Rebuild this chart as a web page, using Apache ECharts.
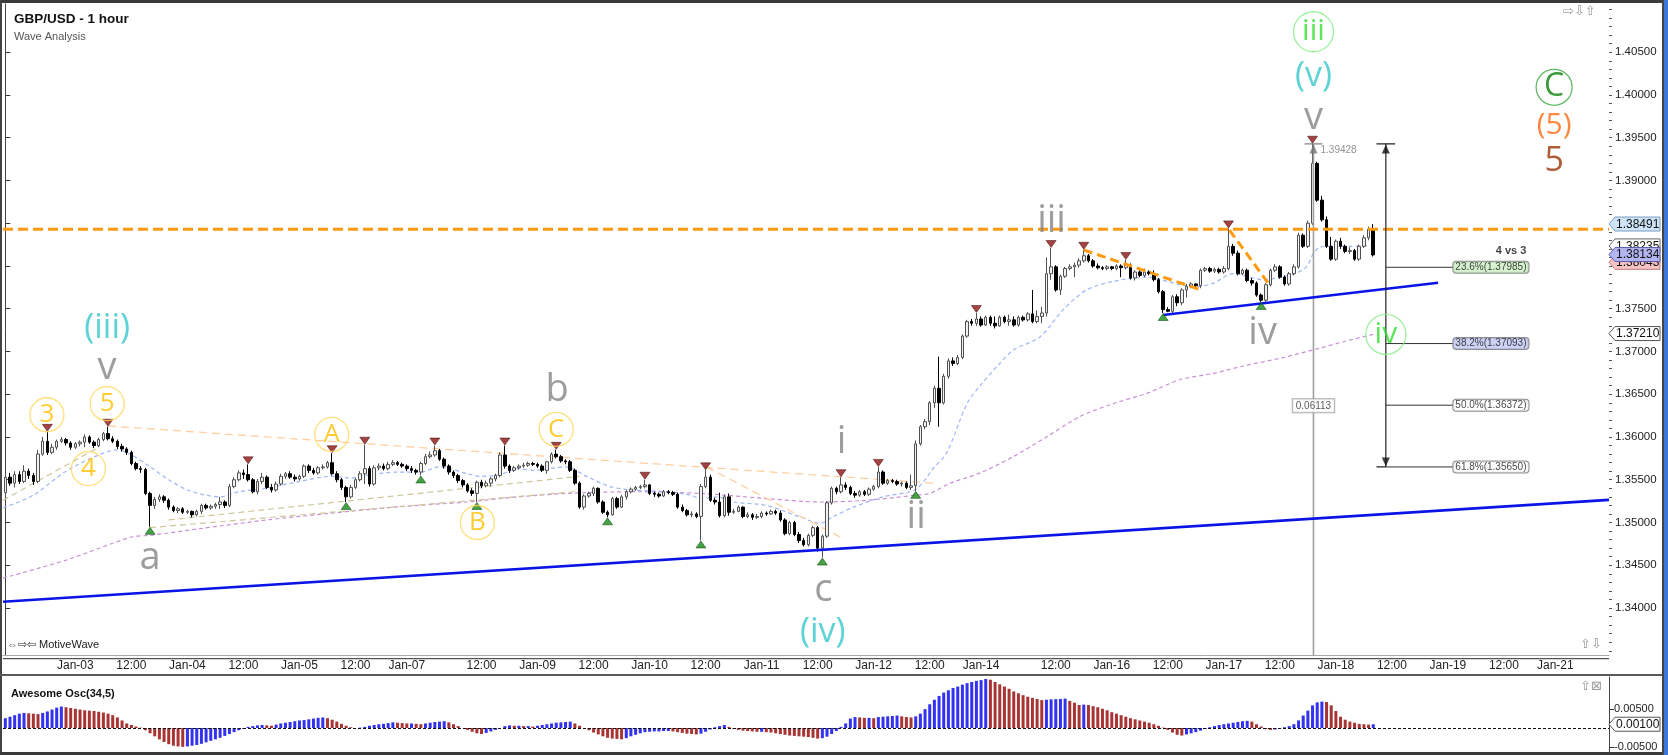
<!DOCTYPE html>
<html><head><meta charset="utf-8">
<script src="https://cdn.jsdelivr.net/npm/echarts@6/dist/echarts.min.js"></script>
<style>html,body{margin:0;padding:0;background:#fff}#c{width:1668px;height:755px}</style>
</head><body><div id="c"></div>
<script>
// ---------- DATA (prices in pips above BASE) ----------
const BASE = 1.3, PIP = 0.0001;
const sessions = [['Jan-02',9,23],['Jan-03',0,23],['Jan-04',0,23],['Jan-05',0,22],['Jan-07',20,23],['Jan-08',0,23],['Jan-09',0,23],['Jan-10',0,23],['Jan-11',0,23],['Jan-12',0,22],['Jan-14',20,23],['Jan-15',0,23],['Jan-16',0,23],['Jan-17',0,23],['Jan-18',0,23],['Jan-19',0,22],['Jan-21',20,23],['Jan-22',0,7]];
const labelTickIdx = [15,27,39,51,63,75,86,102,114,126,138,150,162,174,186,198,209,225,237,249,261,273,285,297,309,321,332];
const priceTicks = [1.340,1.345,1.350,1.355,1.360,1.365,1.370,1.375,1.380,1.385,1.390,1.395,1.400,1.405];
const priceLabels = [1.340,1.345,1.350,1.355,1.360,1.365,1.370,1.375,1.390,1.395,1.400,1.405];
const aoTicks = [-0.005,0.005];

// [open, close, low, high]
const ohlcA = [
[535,553,530,556],[553,546,543,558],[546,556,541,560],[556,548,545,560],[548,560,546,567],[560,555,551,563],[555,548,544,558],[548,580,546,585],[580,595,578,600],[595,582,579,606],
[582,588,580,592],[588,595,585,597],[595,597,593,600],[597,593,590,599],[593,588,585,595],[588,592,586,594],[592,594,589,596],[594,600,588,603],[600,594,592,602],[594,590,587,596],
[590,597,588,599],[597,604,595,606],[604,598,596,612],[598,595,593,601],[595,589,586,597],[589,586,583,592],[586,582,579,588],[582,569,567,584],[569,563,561,571],[563,562,558,566],
[562,534,532,564],[534,520,495,536],[520,527,516,530],[527,530,524,533],[530,526,523,532],[526,518,515,528],[518,514,512,520],[514,516,511,518],[516,512,510,518],[512,513,510,515],
[513,509,506,514],[509,513,507,515],[513,520,510,522],[520,517,515,522],[517,519,515,521],[519,521,516,523],[521,524,516,530],[524,520,517,526],[520,542,518,545],[542,550,540,553],
[550,558,548,561],[558,556,551,562],[556,550,548,568],[550,536,534,552],[536,548,533,551],[548,553,545,558],[553,541,539,555],[541,538,535,545],[538,545,536,548],[545,554,543,557],
[554,557,551,559],[557,553,551,560],[553,551,548,556],[551,554,549,556],[554,566,552,568],[566,561,558,568],[561,558,556,564],[558,564,556,566],[564,565,562,568],[565,570,563,572],
[570,557,555,581],[557,550,547,560],[550,541,538,552],[541,530,524,543],[530,541,528,544],[541,550,539,552],[550,557,548,560],[557,563,545,591],[563,545,542,566],[545,564,543,567],
[564,566,561,569],[566,563,561,569],[563,568,561,571],[568,570,566,573],[570,568,566,572],[568,566,564,570],[566,563,560,568],[563,561,558,566],[561,559,556,563],[559,569,555,571],
[569,577,567,580],[577,579,575,583],[579,584,577,590],[584,574,572,586],[574,566,563,576],[566,559,556,568],[559,555,552,561],[555,549,546,557],[549,544,541,551],[544,537,535,546],
[537,534,531,540],[534,547,524,549],[547,543,540,550],[543,546,541,549],[546,551,542,553],[551,555,548,557],[555,579,553,582],[579,566,563,590],[566,561,558,568],[561,564,559,566]
];
const ohlcB = [
[564,566,562,568],[566,567,564,570],[567,569,565,571],[569,568,566,571],[568,566,564,570],[566,561,559,568],[561,571,557,572],[571,580,569,582],[580,577,575,585],[577,572,570,579],
[572,571,568,574],[571,561,559,573],[561,546,544,563],[546,518,516,548],[518,531,515,533],[531,534,529,536],[534,540,531,542],[540,524,522,541],[524,512,510,526],[512,509,506,514],
[509,528,508,530],[528,518,516,530],[518,530,517,532],[530,536,527,538],[536,539,534,541],[539,541,537,543],[541,542,539,544],[542,544,540,550],[544,534,532,545],[534,533,530,536],
[533,531,529,535],[531,536,530,538],[536,535,533,538],[535,533,531,537],[533,518,516,535],[518,514,512,521],[514,509,507,516],[509,510,506,513],[510,507,505,512],[507,542,479,545],
[542,553,540,561],[553,526,524,556],[526,524,521,529],[524,508,506,535],[508,530,506,532],[530,512,508,534],[512,513,510,516],[513,518,512,520],[518,507,505,519],[507,509,505,512],
[509,506,503,511],[506,507,504,510],[507,511,505,513],[511,510,508,513],[510,513,509,515],[513,511,509,515],[511,503,501,514],[503,487,485,505],[487,500,485,502],[500,486,484,502],
[486,479,476,489],[479,474,472,482],[474,485,472,487],[485,494,483,496],[494,470,466,496],[470,484,459,486],[484,523,482,525],[523,540,521,542],[540,536,533,542],[536,544,534,553],
[544,541,538,547],[541,534,532,543],[534,532,529,537],[532,536,530,538],[536,533,531,538],[533,539,531,541],[539,542,537,544],[542,559,540,565],[559,546,544,561],[546,549,544,551],
[549,548,546,551],[548,545,543,550],[545,546,542,548],[546,541,539,548],[541,543,538,556],[543,592,537,596]
];
const ohlcC = [
[592,612,590,614],[612,618,609,621],[618,640,614,642],[640,657,634,660],[657,640,612,694],[640,671,638,674],[671,689,668,692],[689,686,683,693],[686,693,684,696],[693,718,691,720],
[718,735,716,737],[735,733,730,738],[733,738,730,745],[738,731,729,741],[731,740,730,742],[740,733,730,742],[733,730,727,741],[730,740,729,742],[740,735,733,742],[735,737,730,743],
[737,731,729,741],[731,740,729,742],[740,737,735,742],[737,744,735,746],[744,735,733,772],[735,741,733,748],[741,745,733,752],[745,791,741,810],[791,799,784,821],[799,772,770,801],
[772,788,766,790],[788,797,786,799],[797,799,795,802],[799,801,787,804],[801,806,798,809],[806,812,804,819],[812,806,804,814],[806,800,798,808],[800,798,796,803],[798,797,795,800],
[797,799,795,801],[799,797,795,800],[797,800,795,802],[800,798,787,802],[798,801,796,807],[801,786,784,803],[786,793,783,795],[793,789,787,795],[789,793,787,797],[793,791,789,795],
[791,784,782,795],[784,770,768,786],[770,749,745,772],[749,747,746,752],[747,764,745,766],[764,757,753,767],[757,772,754,774],[772,776,763,779],[776,779,774,781],[779,777,774,780],
[777,795,774,797],[795,797,793,799],[797,794,792,799],[794,796,792,798],[796,793,791,798],[793,797,791,800],[797,823,795,844],[823,815,812,826],[815,791,789,818],[791,795,789,797],
[795,783,781,797],[783,780,777,786],[780,766,764,782],[766,760,758,768],[760,778,758,780],[778,795,776,797],[795,799,793,802],[799,787,785,801],[787,779,777,789],[779,791,777,793],
[791,799,789,802],[799,836,797,839],[836,823,821,838],[823,850,821,853],[850,920,848,943],[920,877,875,922],[877,854,852,882],[854,823,821,858],[823,808,806,834],[808,829,806,831],
[829,823,820,833],[823,817,815,825],[817,818,814,822],[818,808,806,820],[808,823,806,825],[823,833,821,836],[833,843,830,846],[843,813,811,849]
];
const pivotHighs = [9,22,52,70,77,92,107,118,137,150,179,187,208,224,231,240,262,280];
const pivotLows = [31,73,89,101,129,149,175,195,248,269];

// Awesome oscillator (pips)
const aoValues = [
26,30,34,38,40,39,38,37,40,44, 49,54,57,55,53,51,49,47,46,45, 43,41,38,34,28,20,12,8,4,1,
-6,-14,-22,-30,-37,-43,-47,-49,-50,-49, -47,-45,-42,-38,-34,-30,-26,-21,-16,-11, -6,-2,3,5,7,8,7,6,9,12,
14,16,18,20,21,23,25,27,28,26, 22,17,11,6,2,0,1,3,6,8, 10,11,13,15,14,13,12,12,11,10,
12,14,16,17,18,15,10,5,0,-5, -10,-14,-16,-13,-9,-5,0,5,7,6, 6,5,5,4,6,8,10,12,14,15,
16,17,12,6,0,-6,-12,-17,-22,-26, -28,-29,-30,-27,-22,-18,-14,-11,-10,-9, -9,-8,-8,-9,-11,-13,-15,-16,-17,-15,
-10,-4,2,5,8,3,-2,-5,-7,-8, -9,-10,-10,-11,-12,-14,-16,-18,-20,-21, -22,-23,-24,-26,-28,-27,-23,-16,-8,3,
12,25,29,28,27,27,26,29,30,31, 32,33,31,29,28,31,38,50,63,75, 85,94,100,106,110,115,119,122,125,127,
130,128,122,116,110,104,97,92,87,83, 80,77,74,75,76,76.5,77,78,72,67, 61,62,61,58,55,51,47,42,38,34,
30,26,23,20,17,14,10,6,1,-5, -12,-18,-20,-17,-14,-11,-7,-3,2,5, 8,10,12,14,16,18,19,17,10,4,
-3,-5,-4,-1,2,5,10,20,33,46, 60,68,70,69,60,45,30,22,17,14, 11,10,9,10
];

// moving averages: [barIndex, pips]
const maFast = [[-0.5,517],[6,532],[13,560],[20,579],[24,585],[27,579],[31,565],[35,550],[39,538],[43,532],[46,530],[50,536],[56,540],[63,548],[70,554],[74,552],[77,555],[84,559],[89,559],[93,565],[99,557],[102,554],[106,556],[110,563],[113,561],[120,565],[124.5,554],[129.5,542],[134.5,538],[141.7,536],[146.7,532],[149,528],[152.4,530],[156,524],[163,520],[170,507],[174.5,499],[177.4,507],[181.7,518],[188,530],[195,539],[199,565],[201.6,581],[206,639],[208.8,660],[213,686],[216,702],[221.6,717],[226.6,749],[231.6,772],[237.3,782],[244.5,787],[251.6,778],[255.2,776],[258.8,780],[263,791],[269.5,784],[276,791],[278.7,799],[280.2,815],[281.6,822],[284,823],[288,823],[292.3,824]];
const maSlow = [[-0.5,435],[13,456],[27,483],[31,485],[42,493],[56,503],[70,511],[84.5,518.5],[99,524],[106,528],[110,530],[120,534],[134.5,536],[149,534],[163,528],[174.5,524],[184.5,526],[195,532],[198,534],[202.4,546],[208.8,558],[215.9,577],[223,600],[230.2,624],[237.3,639],[244.5,651],[251.6,667],[258.8,674.5],[265.9,684],[273,692],[281.6,704],[287,712],[293,720]];

// drawn tools: [barIndex, pips]
const blueLong = [[-0.5,407.4],[343.5,526.5]];
const blueShort = [[248,742.7],[306.9,780.5]];
const orangeLevel = 843;
const orangeDiag1 = [[231,818.7],[256.2,771.9]];
const orangeDiag2 = [[262.2,842],[270.5,780]];
const faintOrange1 = [[22,613],[198.7,546]];
const faintOrange2 = [[150.2,565],[178.8,483]];
const oliveLeft = [[-0.5,526],[20.3,589]];
const oliveA = [[31,494],[122,536]];
const oliveB = [[35,503],[123,554]];

const peakIdx = 280.2, peakPrice = 1.39428, measureText = '0.06113', measurePips = 636.5;
const fibIdx = 295.7, fibLabelIdx = 310.05;
const fibPct = ['23.6%','38.2%','50.0%','61.8%'];
const fibVal = [1.37985,1.37093,1.36372,1.35650];
const tagVals = [1.38491,1.38235,1.38043,1.38134,1.37210];
const aoTag = 0.00100;

// wave labels [barIndex, pips, text]
const grayLabels = [[21.8,680,'v'],[31,458,'a'],[118.2,655,'b'],[175.2,421,'c'],[179.1,594,'i'],[195.1,506,'ii'],[224.1,852,'iii'],[269.3,721,'iv'],[280.2,973,'v']];
const cyanLabels = [[21.8,727,'(iii)'],[175.1,372,'(iv)'],[280.2,1022,'(v)']];
const goldCircles = [[8.9,626,'3'],[21.8,639,'5'],[17.8,563,'4'],[69.9,603,'A'],[101.1,500,'B'],[118,609,'C']];
const greenCircles = [[280.2,1074,'iii'],[295.7,720,'iv']];
const dkGreenCircles = [[331.75,1009,'C']];
const orangeLabels = [[331.75,964,'(5)']];
const brownLabels = [[331.75,922,'5']];

// ---------- BUILD ----------
const px = v => +(BASE + v * PIP).toFixed(5);
const cats = [];
sessions.forEach(([d,h0,h1]) => { for (let h = h0; h <= h1; h++) cats.push(h === h0 ? d : (h < 10 ? '0' + h : '' + h) + ':00'); });
const N = cats.length;
const tickSet = new Set(labelTickIdx);
const candles = [...ohlcA, ...ohlcB, ...ohlcC].map(r => r.map(px));
const Y_MIN = 1.334503, Y_MAX = 1.410643;
const minorTicks = [];
for (let k = 1335; k <= 1410; k++) minorTicks.push(k / 1000);
const WAVE_FONT = "'Open Sans','Noto Sans',sans-serif";
const SANS = "'Liberation Sans',Arial,sans-serif";
const GRID_RIGHT = 59;

function seg(points, ls, z, smooth) {
  return {type:'line', xAxisIndex:1, yAxisIndex:0, data: points.map(([i,v]) => [i, px(v)]), symbol:'none', smooth: smooth || false,
    lineStyle: ls, silent:true, z: z || 4};
}
function rawSeg(points, ls, z) {
  return {type:'line', xAxisIndex:1, yAxisIndex:0, data: points, symbol:'none', lineStyle: ls, silent:true, z: z || 4};
}
function textSeries(arr, fs, color, z) {
  return {type:'scatter', xAxisIndex:1, yAxisIndex:0, symbolSize:1, itemStyle:{color:'rgba(0,0,0,0)'}, silent:true, z: z || 7,
    data: arr.map(([i,v,t]) => ({name:t, value:[i, px(v)]})),
    label:{show:true, position:'inside', formatter:'{b}', fontSize:fs, color:color, fontFamily:WAVE_FONT, fontWeight:'normal'}};
}
function circleSeries(arr, d, fs, color, border, z) {
  return {type:'scatter', xAxisIndex:1, yAxisIndex:0, symbol:'circle', symbolSize:d, silent:true, z: z || 7,
    itemStyle:{color:'rgba(255,255,255,0)', borderColor:border, borderWidth:1.3},
    data: arr.map(([i,v,t]) => ({name:t, value:[i, px(v)]})),
    label:{show:true, position:'inside', formatter:'{b}', fontSize:fs, color:color, fontFamily:WAVE_FONT, fontWeight:'normal'}};
}

const tagStyle = {
  1.38491:{bg:'#cfe4f6', bd:'#7b9ec4'}, 1.38235:{bg:'#ffffff', bd:'#666'}, 1.38043:{bg:'#f7c4c4', bd:'#c07c7c'},
  1.38134:{bg:'#b2b5f0', bd:'#5c5cb0'}, 1.37210:{bg:'#ffffff', bd:'#555'}
};
const fibBg = ['#cdf0c4','#c2c8f2','#ffffff','#ffffff'];

const series = [];
series.push(seg(maSlow, {color:'#c98fd6', width:1.2, type:[4,3]}, 2, 0.3));
series.push(seg(maFast, {color:'#9fb6f5', width:1.2, type:[4,3]}, 2, 0.3));
series.push(seg(oliveLeft, {color:'#cfc79a', width:1.2, type:[6,4]}, 2));
series.push(seg(oliveA, {color:'#cfc79a', width:1.2, type:[6,4]}, 2));
series.push(seg(oliveB, {color:'#cfc79a', width:1.2, type:[6,4]}, 2));
series.push(seg(faintOrange1, {color:'#ffcc99', width:1.2, type:[8,5]}, 2));
series.push(seg(faintOrange2, {color:'#ffcc99', width:1.2, type:[8,5]}, 2));

series.push({
  type:'candlestick', xAxisIndex:0, yAxisIndex:0, data:candles, barWidth:3, z:3,
  itemStyle:{color:'#f2f2f2', color0:'#000000', borderColor:'#505050', borderColor0:'#000000', borderWidth:1}
});

series.push(seg([[-0.5,orangeLevel],[N-0.5,orangeLevel]], {color:'#ff9a10', width:3, type:[10,5]}, 5));
series.push(seg(orangeDiag1, {color:'#ff9a10', width:3, type:[9,5]}, 5));
series.push(seg(orangeDiag2, {color:'#ff9a10', width:3, type:[9,5]}, 5));
series.push(seg(blueLong, {color:'#0a14e6', width:2.6}, 5));
series.push(seg(blueShort, {color:'#0a14e6', width:2.6}, 5));

series.push(rawSeg([[peakIdx, peakPrice],[peakIdx, Y_MIN]], {color:'#a0a0a0', width:1.6}, 4));
series.push(rawSeg([[peakIdx-1.9, peakPrice],[peakIdx+1.9, peakPrice]], {color:'#808080', width:1.4}, 4));
const fibLow = fibVal[fibVal.length-1];
series.push(rawSeg([[fibIdx, peakPrice],[fibIdx, fibLow]], {color:'#222', width:1.2}, 5));
series.push(rawSeg([[fibIdx-2, peakPrice],[fibIdx+2, peakPrice]], {color:'#222', width:1.4}, 5));
series.push(rawSeg([[fibIdx-2, fibLow],[fibIdx, fibLow]], {color:'#222', width:1.4}, 5));
fibVal.forEach(v => series.push(rawSeg([[fibIdx, v],[fibLabelIdx, v]], {color:'#333', width:1}, 5)));
series.push({type:'scatter', xAxisIndex:1, yAxisIndex:0, symbol:'triangle', symbolSize:[8,9], silent:true, z:6,
  data:[{value:[fibIdx, peakPrice], symbolOffset:[0,5], itemStyle:{color:'#111'}},
        {value:[fibIdx, fibLow], symbolRotate:180, symbolOffset:[0,-5], itemStyle:{color:'#111'}},
        {value:[peakIdx, peakPrice], symbolOffset:[0,5], itemStyle:{color:'#777'}}]});
series.push({type:'scatter', xAxisIndex:1, yAxisIndex:0, symbolSize:1, itemStyle:{color:'rgba(0,0,0,0)'}, silent:true, z:8,
  data: fibVal.map((v,k) => ({value:[fibLabelIdx, v], label:{backgroundColor:fibBg[k], formatter: fibPct[k] + '(' + v.toFixed(5) + ')'}})),
  label:{show:true, position:'right', distance:0, fontSize:10, color:'#111', fontFamily:SANS, borderColor:'#707070', borderWidth:1, borderRadius:3, padding:[1,2,0,2]}});
series.push({type:'scatter', xAxisIndex:1, yAxisIndex:0, symbolSize:1, itemStyle:{color:'rgba(0,0,0,0)'}, silent:true, z:8,
  data:[
    {value:[peakIdx, px(measurePips)], label:{show:true, position:'inside', formatter:measureText, fontSize:10, color:'#333', backgroundColor:'#fff', borderColor:'#999', borderWidth:1, padding:[2,3,1,3], fontFamily:SANS}},
    {value:[281.6, px(935)], label:{show:true, position:'right', distance:0, formatter:peakPrice.toFixed(5), fontSize:10, color:'#777', fontFamily:SANS}},
    {value:[325.9, px(817.5)], label:{show:true, position:'left', distance:0, formatter:'4 vs 3', fontSize:11, fontWeight:'bold', color:'#111', fontFamily:SANS}}
  ]});

series.push({type:'scatter', xAxisIndex:1, yAxisIndex:0, symbol:'triangle', symbolRotate:180, symbolSize:[10,7], symbolOffset:[0,-4], silent:true, z:6,
  itemStyle:{color:'#8e1414', borderColor:'#3a0000', borderWidth:0.6}, data: pivotHighs.map(i => [i, candles[i][3]])});
series.push({type:'scatter', xAxisIndex:1, yAxisIndex:0, symbol:'triangle', symbolSize:[10,7], symbolOffset:[0,4], silent:true, z:6,
  itemStyle:{color:'#168c16', borderColor:'#003a00', borderWidth:0.6}, data: pivotLows.map(i => [i, candles[i][2]])});

series.push(textSeries(grayLabels, 38, '#858585'));
series.push(textSeries(cyanLabels, 34, '#35c8cc'));
series.push(textSeries(orangeLabels, 30, '#ff6a10'));
series.push(textSeries(brownLabels, 34, '#9a3408'));
series.push(circleSeries(goldCircles, 34, 26, '#ffc000', '#ffd75a'));
series.push(circleSeries(greenCircles, 40, 30, '#2fe02f', '#86ee86'));
series.push(circleSeries(dkGreenCircles, 36, 32, '#0a820a', '#3aa83a'));

series.push({type:'bar', xAxisIndex:2, yAxisIndex:2, barWidth:3, silent:true,
  data: aoValues.map((v,i) => ({value: v * PIP, itemStyle:{color: (i > 0 && v < aoValues[i-1]) ? '#a83434' : '#3232f0'}})),
  markLine:{symbol:['none','none'], silent:true, animation:false, data:[
    {yAxis:0, lineStyle:{color:'#111', type:[3,2], width:1}, label:{show:false}}
  ]}});

const baseGraphic = [
  {type:'rect', shape:{x:0,y:0,width:1668,height:3}, style:{fill:'#3a3a3a'}, silent:true},
  {type:'rect', shape:{x:0,y:0,width:2,height:755}, style:{fill:'#444'}, silent:true},
  {type:'rect', shape:{x:0,y:752,width:1668,height:3}, style:{fill:'#3a3a3a'}, silent:true},
  {type:'rect', shape:{x:1662,y:0,width:2,height:755}, style:{fill:'#444'}, silent:true},
  {type:'rect', shape:{x:1664,y:0,width:4,height:755}, style:{fill:'#3b78d8'}, silent:true},
  {type:'rect', shape:{x:0,y:674,width:1662,height:2}, style:{fill:'#5a5a5a'}, silent:true},
  {type:'rect', shape:{x:3,y:658,width:1606,height:1.2}, style:{fill:'#555'}, silent:true},
  {type:'text', x:7, y:639, style:{text:'\u21D4\u21E8\u21E6 MotiveWave', fontSize:11, fill:'#222', fontFamily:SANS}, silent:true},
  {type:'text', x:1563, y:5, style:{text:'\u21E8\u21E9\u21E7', fontSize:13, fill:'#9a9a9a', fontFamily:"'DejaVu Sans',sans-serif"}, silent:true},
  {type:'text', x:1580, y:638, style:{text:'\u21E7\u21E9', fontSize:13, fill:'#9a9a9a', fontFamily:"'DejaVu Sans',sans-serif"}, silent:true},
  {type:'text', x:1580, y:680, style:{text:'\u21E7\u22A0', fontSize:13, fill:'#9a9a9a', fontFamily:"'DejaVu Sans',sans-serif"}, silent:true}
];

const option = {
  animation:false,
  backgroundColor:'#ffffff',
  textStyle:{fontFamily:SANS},
  title:[
    {text:'GBP/USD - 1 hour', subtext:'Wave Analysis', left:9, top:7, itemGap:5,
     textStyle:{fontSize:13.5, fontWeight:'bold', color:'#111', fontFamily:SANS}, subtextStyle:{fontSize:11, color:'#555', fontFamily:SANS}},
    {text:'Awesome Osc(34,5)', left:6, top:683, textStyle:{fontSize:11, fontWeight:'bold', color:'#111', fontFamily:SANS}}
  ],
  grid:[{left:3, right:GRID_RIGHT, top:4, bottom:100}, {left:3, right:GRID_RIGHT, top:677, bottom:2}],
  xAxis:[
    {type:'category', gridIndex:0, data:cats, boundaryGap:true,
     axisLine:{lineStyle:{color:'#a8a8a8', width:1}},
     axisTick:{alignWithLabel:true, interval:(i) => tickSet.has(i), length:4, lineStyle:{color:'#333'}},
     axisLabel:{interval:(i) => tickSet.has(i), fontSize:12, color:'#222', margin:5, fontFamily:SANS},
     splitLine:{show:false}},
    {type:'value', gridIndex:0, min:-0.5, max:N-0.5, show:false},
    {type:'category', gridIndex:1, data:cats, boundaryGap:true, show:false}
  ],
  yAxis:[
    {type:'value', gridIndex:0, position:'right', min:Y_MIN, max:Y_MAX,
     axisLine:{show:true, lineStyle:{color:'#444'}},
     axisTick:{show:true, customValues:priceTicks, length:5, lineStyle:{color:'#333'}},
     axisLabel:{customValues:priceLabels, formatter:v => v.toFixed(5), fontSize:11.5, color:'#222', margin:6, fontFamily:SANS},
     splitLine:{show:false}},
    {type:'value', gridIndex:0, position:'right', min:Y_MIN, max:Y_MAX,
     axisLine:{show:false}, axisTick:{show:true, customValues:minorTicks, length:3, lineStyle:{color:'#555'}},
     axisLabel:{show:false}, splitLine:{show:false}},
    {type:'value', gridIndex:1, position:'right', min:-0.006631, max:0.013528,
     axisLine:{show:true, lineStyle:{color:'#444'}},
     axisTick:{show:true, customValues:aoTicks, length:5, lineStyle:{color:'#333'}},
     axisLabel:{customValues:aoTicks, formatter:v => v.toFixed(5), fontSize:11, color:'#222', margin:5, fontFamily:SANS},
     splitLine:{show:false}}
  ],
  graphic: baseGraphic,
  series:series
};
const chart = echarts.init(document.getElementById('c'));
chart.setOption(option);

// price tags placed through the axis scales (later tags drawn on top)
function tag(yPix, text, bg, bd, layer) {
  const x0 = chart.getWidth() - GRID_RIGHT;
  return [
    {type:'polygon', z:100 + layer * 2, silent:true, shape:{points:[[x0,yPix],[x0+6,yPix-7],[x0+51,yPix-7],[x0+51,yPix+7],[x0+6,yPix+7]]},
     style:{fill:bg, stroke:bd, lineWidth:1}},
    {type:'text', z:101 + layer * 2, silent:true, x:x0+7, y:yPix+0.5, style:{text:text, fontSize:12, fill:'#111', fontFamily:SANS, verticalAlign:'middle', align:'left'}}
  ];
}
const tagGraphics = [];
tagVals.forEach((v, k) => { tagGraphics.push(...tag(chart.convertToPixel({yAxisIndex:0}, v), v.toFixed(5), tagStyle[v].bg, tagStyle[v].bd, k)); });
tagGraphics.push(...tag(chart.convertToPixel({yAxisIndex:2}, aoTag), aoTag.toFixed(5), '#ffffff', '#555', tagVals.length));
chart.setOption({graphic: baseGraphic.concat(tagGraphics)});
</script></body></html>
